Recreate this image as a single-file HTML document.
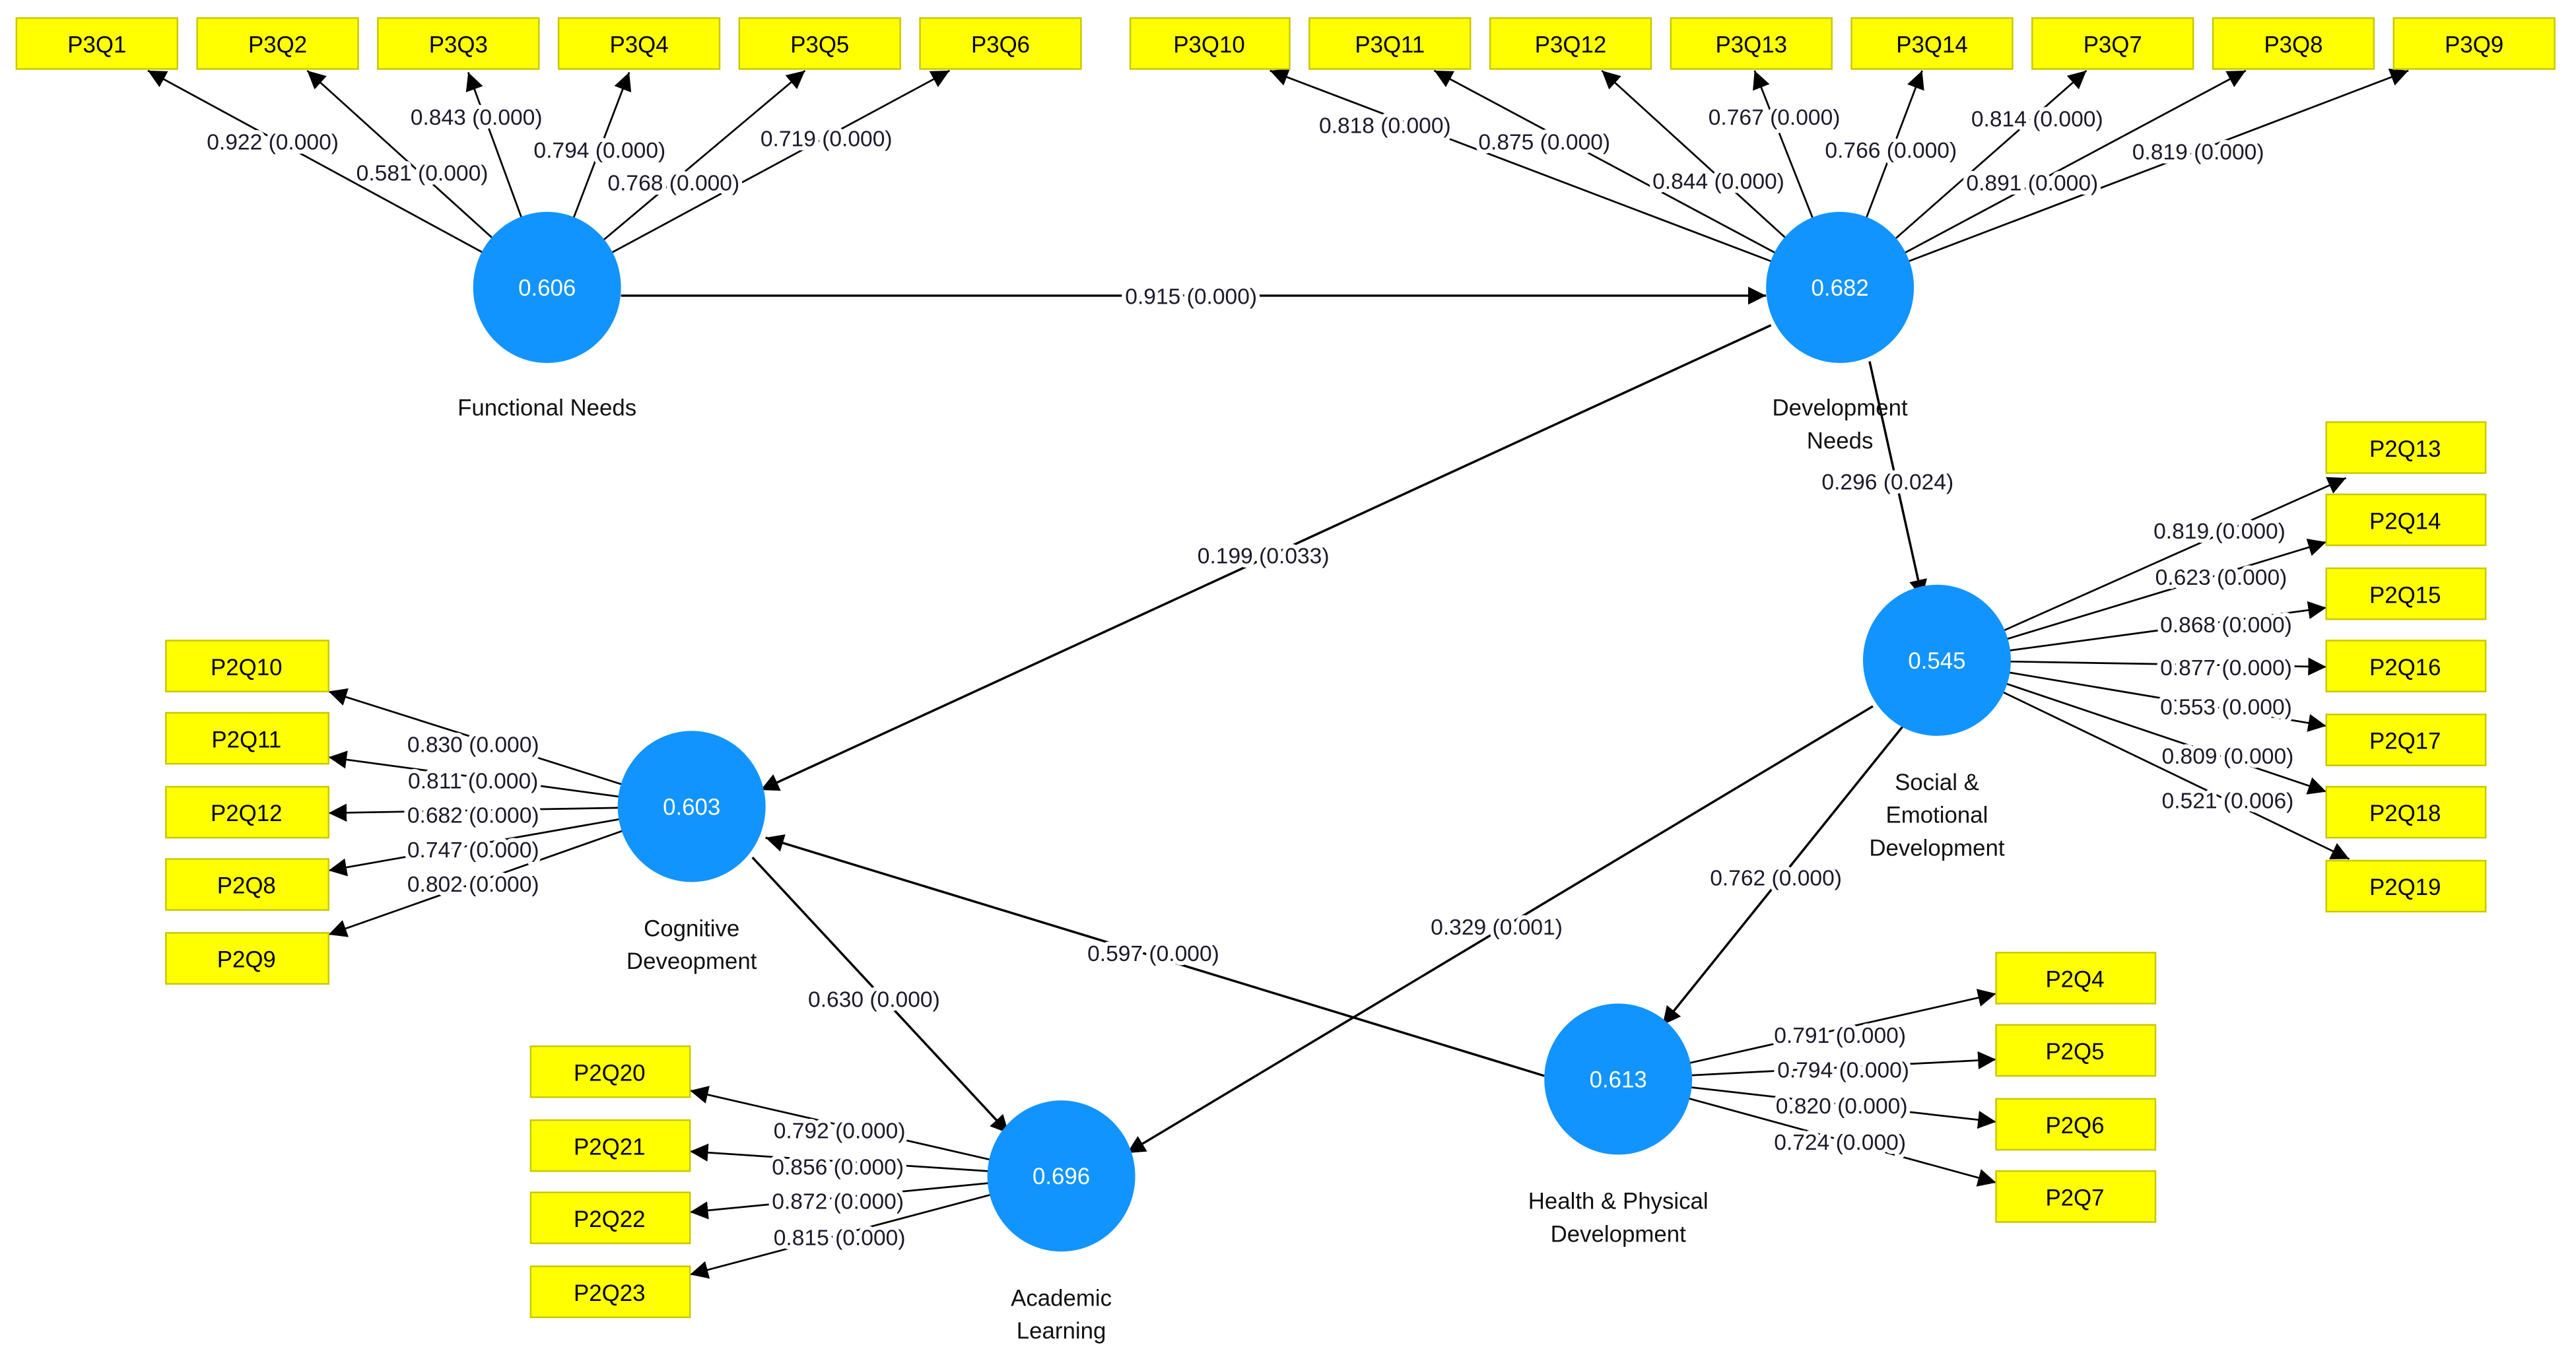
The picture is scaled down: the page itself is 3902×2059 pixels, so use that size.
<!DOCTYPE html>
<html><head><meta charset="utf-8"><style>
html,body{margin:0;padding:0;background:#fff;}
svg{display:block;}
text{font-family:"Liberation Sans",sans-serif;}
.b{fill:#ffff00;stroke:#c8c800;stroke-width:1;}
.bt{font-size:14px;fill:#000;text-anchor:middle;}
.l{stroke:#000;stroke-width:1.1;fill:none;marker-end:url(#a);}
.s{stroke:#000;stroke-width:1.4;fill:none;marker-end:url(#a);}
.lb{font-size:13.5px;fill:#1a1a2a;text-anchor:middle;paint-order:stroke;stroke:#fff;stroke-width:5px;stroke-linejoin:round;}
.c{fill:#1294ff;}
.ct{font-size:14px;fill:#fff;text-anchor:middle;}
.nt{font-size:14px;fill:#111;text-anchor:middle;}
</style></head><body>
<svg width="3902" height="2059" viewBox="0 0 1568 827.4" xmlns="http://www.w3.org/2000/svg">
<defs><marker id="a" viewBox="0 0 10 10" refX="10" refY="5" markerWidth="11" markerHeight="11" markerUnits="userSpaceOnUse" orient="auto"><path d="M0,0 L10,5 L0,10 z" fill="#000"/></marker></defs>

<!-- lines -->
<g>
<line class="l" x1="333" y1="175" x2="90" y2="43"/>
<line class="l" x1="333" y1="175" x2="187" y2="43"/>
<line class="l" x1="333" y1="175" x2="285" y2="44"/>
<line class="l" x1="333" y1="175" x2="383" y2="44"/>
<line class="l" x1="333" y1="175" x2="490" y2="43"/>
<line class="l" x1="333" y1="175" x2="578" y2="43"/>

<line class="l" x1="1120" y1="175" x2="773" y2="43"/>
<line class="l" x1="1120" y1="175" x2="873" y2="43"/>
<line class="l" x1="1120" y1="175" x2="975" y2="43"/>
<line class="l" x1="1120" y1="175" x2="1068" y2="43"/>
<line class="l" x1="1120" y1="175" x2="1170" y2="43"/>
<line class="l" x1="1120" y1="175" x2="1270" y2="43"/>
<line class="l" x1="1120" y1="175" x2="1367" y2="43"/>
<line class="l" x1="1120" y1="175" x2="1466" y2="43"/>

<line class="s" x1="378" y1="180" x2="1075" y2="180"/>
<line class="s" x1="1138" y1="220" x2="1170" y2="364"/>
<line class="s" x1="1078" y1="198" x2="463" y2="481"/>
<line class="s" x1="1140" y1="430" x2="686" y2="702"/>
<line class="s" x1="1160" y1="440" x2="1012" y2="624"/>
<line class="s" x1="940" y1="655" x2="466" y2="510"/>
<line class="s" x1="458" y1="522" x2="614" y2="690"/>

<line class="l" x1="1179" y1="402" x2="1428" y2="291"/>
<line class="l" x1="1179" y1="402" x2="1416" y2="330"/>
<line class="l" x1="1179" y1="402" x2="1416" y2="370"/>
<line class="l" x1="1179" y1="402" x2="1416" y2="406"/>
<line class="l" x1="1179" y1="402" x2="1416" y2="442"/>
<line class="l" x1="1179" y1="402" x2="1416" y2="482"/>
<line class="l" x1="1179" y1="402" x2="1430" y2="523"/>

<line class="l" x1="421" y1="491" x2="200" y2="421"/>
<line class="l" x1="421" y1="491" x2="200" y2="461"/>
<line class="l" x1="421" y1="491" x2="200" y2="495"/>
<line class="l" x1="421" y1="491" x2="200" y2="530"/>
<line class="l" x1="421" y1="491" x2="200" y2="569"/>

<line class="l" x1="646" y1="716" x2="420" y2="664"/>
<line class="l" x1="646" y1="716" x2="420" y2="701"/>
<line class="l" x1="646" y1="716" x2="420" y2="738"/>
<line class="l" x1="646" y1="716" x2="420" y2="776"/>

<line class="l" x1="985" y1="657" x2="1215" y2="605"/>
<line class="l" x1="985" y1="657" x2="1215" y2="645"/>
<line class="l" x1="985" y1="657" x2="1215" y2="683"/>
<line class="l" x1="985" y1="657" x2="1215" y2="720"/>
</g>

<!-- boxes -->
<g>
<rect class="b" x="10" y="11" width="98" height="31"/><text class="bt" x="59" y="32">P3Q1</text>
<rect class="b" x="120" y="11" width="98" height="31"/><text class="bt" x="169" y="32">P3Q2</text>
<rect class="b" x="230" y="11" width="98" height="31"/><text class="bt" x="279" y="32">P3Q3</text>
<rect class="b" x="340" y="11" width="98" height="31"/><text class="bt" x="389" y="32">P3Q4</text>
<rect class="b" x="450" y="11" width="98" height="31"/><text class="bt" x="499" y="32">P3Q5</text>
<rect class="b" x="560" y="11" width="98" height="31"/><text class="bt" x="609" y="32">P3Q6</text>
<rect class="b" x="688" y="11" width="97" height="31"/><text class="bt" x="736" y="32">P3Q10</text>
<rect class="b" x="797" y="11" width="98" height="31"/><text class="bt" x="846" y="32">P3Q11</text>
<rect class="b" x="907" y="11" width="98" height="31"/><text class="bt" x="956" y="32">P3Q12</text>
<rect class="b" x="1017" y="11" width="98" height="31"/><text class="bt" x="1066" y="32">P3Q13</text>
<rect class="b" x="1127" y="11" width="98" height="31"/><text class="bt" x="1176" y="32">P3Q14</text>
<rect class="b" x="1237" y="11" width="98" height="31"/><text class="bt" x="1286" y="32">P3Q7</text>
<rect class="b" x="1347" y="11" width="98" height="31"/><text class="bt" x="1396" y="32">P3Q8</text>
<rect class="b" x="1457" y="11" width="98" height="31"/><text class="bt" x="1506" y="32">P3Q9</text>

<rect class="b" x="1416" y="257" width="97" height="31"/><text class="bt" x="1464" y="278">P2Q13</text>
<rect class="b" x="1416" y="301" width="97" height="31"/><text class="bt" x="1464" y="322">P2Q14</text>
<rect class="b" x="1416" y="346" width="97" height="31"/><text class="bt" x="1464" y="367">P2Q15</text>
<rect class="b" x="1416" y="390" width="97" height="31"/><text class="bt" x="1464" y="411">P2Q16</text>
<rect class="b" x="1416" y="435" width="97" height="31"/><text class="bt" x="1464" y="456">P2Q17</text>
<rect class="b" x="1416" y="479" width="97" height="31"/><text class="bt" x="1464" y="500">P2Q18</text>
<rect class="b" x="1416" y="524" width="97" height="31"/><text class="bt" x="1464" y="545">P2Q19</text>

<rect class="b" x="101" y="390" width="99" height="31"/><text class="bt" x="150" y="411">P2Q10</text>
<rect class="b" x="101" y="434" width="99" height="31"/><text class="bt" x="150" y="455">P2Q11</text>
<rect class="b" x="101" y="479" width="99" height="31"/><text class="bt" x="150" y="500">P2Q12</text>
<rect class="b" x="101" y="523" width="99" height="31"/><text class="bt" x="150" y="544">P2Q8</text>
<rect class="b" x="101" y="568" width="99" height="31"/><text class="bt" x="150" y="589">P2Q9</text>

<rect class="b" x="323" y="637" width="97" height="31"/><text class="bt" x="371" y="658">P2Q20</text>
<rect class="b" x="323" y="682" width="97" height="31"/><text class="bt" x="371" y="703">P2Q21</text>
<rect class="b" x="323" y="726" width="97" height="31"/><text class="bt" x="371" y="747">P2Q22</text>
<rect class="b" x="323" y="771" width="97" height="31"/><text class="bt" x="371" y="792">P2Q23</text>

<rect class="b" x="1215" y="580" width="97" height="31"/><text class="bt" x="1263" y="601">P2Q4</text>
<rect class="b" x="1215" y="624" width="97" height="31"/><text class="bt" x="1263" y="645">P2Q5</text>
<rect class="b" x="1215" y="669" width="97" height="31"/><text class="bt" x="1263" y="690">P2Q6</text>
<rect class="b" x="1215" y="713" width="97" height="31"/><text class="bt" x="1263" y="734">P2Q7</text>
</g>

<!-- circles -->
<g>
<ellipse class="c" cx="333" cy="175" rx="45" ry="46"/><text class="ct" x="333" y="180">0.606</text>
<ellipse class="c" cx="1120" cy="175" rx="45" ry="46"/><text class="ct" x="1120" y="180">0.682</text>
<ellipse class="c" cx="1179" cy="402" rx="45" ry="46"/><text class="ct" x="1179" y="407">0.545</text>
<ellipse class="c" cx="421" cy="491" rx="45" ry="46"/><text class="ct" x="421" y="496">0.603</text>
<ellipse class="c" cx="646" cy="716" rx="45" ry="46"/><text class="ct" x="646" y="721">0.696</text>
<ellipse class="c" cx="985" cy="657" rx="45" ry="46"/><text class="ct" x="985" y="662">0.613</text>
</g>

<!-- node names -->
<g>
<text class="nt" x="333" y="253">Functional Needs</text>
<text class="nt" x="1120" y="253">Development</text><text class="nt" x="1120" y="273">Needs</text>
<text class="nt" x="1179" y="481">Social &amp;</text><text class="nt" x="1179" y="501">Emotional</text><text class="nt" x="1179" y="521">Development</text>
<text class="nt" x="421" y="570">Cognitive</text><text class="nt" x="421" y="590">Deveopment</text>
<text class="nt" x="646" y="795">Academic</text><text class="nt" x="646" y="815">Learning</text>
<text class="nt" x="985" y="736">Health &amp; Physical</text><text class="nt" x="985" y="756">Development</text>
</g>

<!-- labels -->
<g>
<text class="lb" x="166" y="91">0.922 (0.000)</text>
<text class="lb" x="257" y="110">0.581 (0.000)</text>
<text class="lb" x="290" y="76">0.843 (0.000)</text>
<text class="lb" x="365" y="96">0.794 (0.000)</text>
<text class="lb" x="410" y="116">0.768 (0.000)</text>
<text class="lb" x="503" y="89">0.719 (0.000)</text>

<text class="lb" x="843" y="81">0.818 (0.000)</text>
<text class="lb" x="940" y="91">0.875 (0.000)</text>
<text class="lb" x="1046" y="115">0.844 (0.000)</text>
<text class="lb" x="1080" y="76">0.767 (0.000)</text>
<text class="lb" x="1151" y="96">0.766 (0.000)</text>
<text class="lb" x="1240" y="77">0.814 (0.000)</text>
<text class="lb" x="1237" y="116">0.891 (0.000)</text>
<text class="lb" x="1338" y="97">0.819 (0.000)</text>

<text class="lb" x="725" y="185">0.915 (0.000)</text>
<text class="lb" x="1149" y="298">0.296 (0.024)</text>
<text class="lb" x="769" y="343">0.199 (0.033)</text>
<text class="lb" x="911" y="569">0.329 (0.001)</text>
<text class="lb" x="1081" y="539">0.762 (0.000)</text>
<text class="lb" x="702" y="585">0.597 (0.000)</text>
<text class="lb" x="532" y="613">0.630 (0.000)</text>

<text class="lb" x="1351" y="328">0.819 (0.000)</text>
<text class="lb" x="1352" y="356">0.623 (0.000)</text>
<text class="lb" x="1355" y="385">0.868 (0.000)</text>
<text class="lb" x="1355" y="411">0.877 (0.000)</text>
<text class="lb" x="1355" y="435">0.553 (0.000)</text>
<text class="lb" x="1356" y="465">0.809 (0.000)</text>
<text class="lb" x="1356" y="492">0.521 (0.006)</text>

<text class="lb" x="288" y="458">0.830 (0.000)</text>
<text class="lb" x="288" y="480">0.811 (0.000)</text>
<text class="lb" x="288" y="501">0.682 (0.000)</text>
<text class="lb" x="288" y="522">0.747 (0.000)</text>
<text class="lb" x="288" y="543">0.802 (0.000)</text>

<text class="lb" x="511" y="693">0.792 (0.000)</text>
<text class="lb" x="510" y="715">0.856 (0.000)</text>
<text class="lb" x="510" y="736">0.872 (0.000)</text>
<text class="lb" x="511" y="758">0.815 (0.000)</text>

<text class="lb" x="1120" y="635">0.791 (0.000)</text>
<text class="lb" x="1122" y="656">0.794 (0.000)</text>
<text class="lb" x="1121" y="678">0.820 (0.000)</text>
<text class="lb" x="1120" y="700">0.724 (0.000)</text>
</g>
</svg>
</body></html>
